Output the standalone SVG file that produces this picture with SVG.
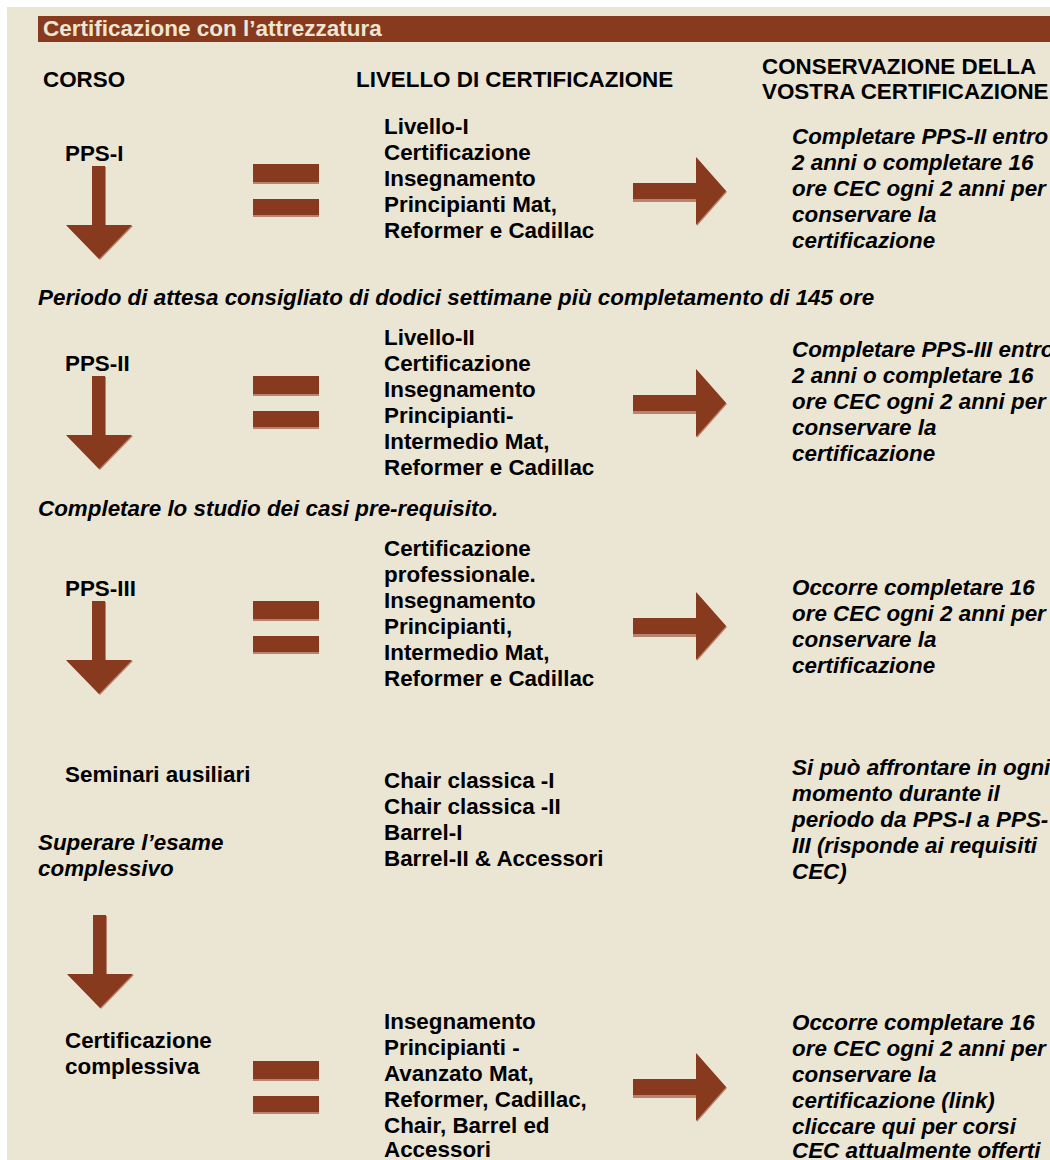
<svg xmlns="http://www.w3.org/2000/svg" xmlns:xlink="http://www.w3.org/1999/xlink" width="1050" height="1160" viewBox="0 0 1050 1160">
<style>
text{font-family:"Liberation Sans",Arial,sans-serif;font-weight:bold;font-size:22.4px;fill:#000}
.i{font-style:italic}
.t{fill:#ede6d3;font-size:22.5px}
.br{fill:#873a1d}
.sh{fill:#b9846f}
</style>
<defs>
<g id="down">
<polygon class="sh" points="1,1 14,1 14,60 41,60 8,94 -25,60 1,60"/>
<polygon class="br" points="0,0 13,0 13,59 40,59 7,93 -26,59 0,59"/>
</g>
<g id="eq">
<rect class="sh" x="0" y="0" width="66" height="20"/>
<rect class="br" x="0" y="0" width="66" height="18"/>
<rect class="sh" x="0" y="35" width="66" height="18"/>
<rect class="br" x="0" y="35" width="66" height="16"/>
</g>
<g id="right">
<polygon class="sh" points="-93,-7 -29,-7 -29,-33 1,1 -29,35 -29,11 -93,11"/>
<polygon class="br" points="-93,-8 -30,-8 -30,-34 0,0 -30,34 -30,8 -93,8"/>
</g>
</defs>
<rect x="0" y="0" width="1050" height="1160" fill="#ffffff"/>
<rect x="7" y="7" width="1043" height="1153" fill="#ebe5d4"/>
<g id="title">
<rect x="38" y="16" width="1012" height="26" fill="#873a1d"/>
<text class="t" x="43" y="36">Certificazione con l’attrezzatura</text>
</g>
<g id="headers">
<text x="43" y="87">CORSO</text>
<text x="356" y="87">LIVELLO DI CERTIFICAZIONE</text>
<text x="762" y="74">CONSERVAZIONE DELLA</text>
<text x="762" y="99">VOSTRA CERTIFICAZIONE</text>
</g>
<g id="pps1">
<text x="65" y="161">PPS-I</text>
</g>
<g id="level1">
<text x="384" y="134">Livello-I</text>
<text x="384" y="160">Certificazione</text>
<text x="384" y="186">Insegnamento</text>
<text x="384" y="212">Principianti Mat,</text>
<text x="384" y="238">Reformer e Cadillac</text>
</g>
<g id="keep1">
<text class="i" x="792" y="144">Completare PPS-II entro</text>
<text class="i" x="792" y="170">2 anni o completare 16</text>
<text class="i" x="792" y="196">ore CEC ogni 2 anni per</text>
<text class="i" x="792" y="222">conservare la</text>
<text class="i" x="792" y="248">certificazione</text>
</g>
<g id="note1">
<text class="i" x="38" y="305">Periodo di attesa consigliato di dodici settimane più completamento di 145 ore</text>
</g>
<g id="pps2">
<text x="65" y="371">PPS-II</text>
</g>
<g id="level2">
<text x="384" y="345">Livello-II</text>
<text x="384" y="371">Certificazione</text>
<text x="384" y="397">Insegnamento</text>
<text x="384" y="423">Principianti-</text>
<text x="384" y="449">Intermedio Mat,</text>
<text x="384" y="475">Reformer e Cadillac</text>
</g>
<g id="keep2">
<text class="i" x="792" y="357">Completare PPS-III entro</text>
<text class="i" x="792" y="383">2 anni o completare 16</text>
<text class="i" x="792" y="409">ore CEC ogni 2 anni per</text>
<text class="i" x="792" y="435">conservare la</text>
<text class="i" x="792" y="461">certificazione</text>
</g>
<g id="note2">
<text class="i" x="38" y="516">Completare lo studio dei casi pre-requisito.</text>
</g>
<g id="pps3">
<text x="65" y="596">PPS-III</text>
</g>
<g id="level3">
<text x="384" y="556">Certificazione</text>
<text x="384" y="582">professionale.</text>
<text x="384" y="608">Insegnamento</text>
<text x="384" y="634">Principianti,</text>
<text x="384" y="660">Intermedio Mat,</text>
<text x="384" y="686">Reformer e Cadillac</text>
</g>
<g id="keep3">
<text class="i" x="792" y="595">Occorre completare 16</text>
<text class="i" x="792" y="621">ore CEC ogni 2 anni per</text>
<text class="i" x="792" y="647">conservare la</text>
<text class="i" x="792" y="673">certificazione</text>
</g>
<g id="seminari">
<text x="65" y="782">Seminari ausiliari</text>
</g>
<g id="level-sem">
<text x="384" y="788">Chair classica -I</text>
<text x="384" y="814">Chair classica -II</text>
<text x="384" y="840">Barrel-I</text>
<text x="384" y="866">Barrel-II &amp; Accessori</text>
</g>
<g id="note3">
<text class="i" x="38" y="850">Superare l’esame</text>
<text class="i" x="38" y="876">complessivo</text>
</g>
<g id="keep-sem">
<text class="i" x="792" y="775">Si può affrontare in ogni</text>
<text class="i" x="792" y="801">momento durante il</text>
<text class="i" x="792" y="827">periodo da PPS-I a PPS-</text>
<text class="i" x="792" y="853">III (risponde ai requisiti</text>
<text class="i" x="792" y="879">CEC)</text>
</g>
<g id="cert-compl">
<text x="65" y="1048">Certificazione</text>
<text x="65" y="1074">complessiva</text>
</g>
<g id="level-compl">
<text x="384" y="1029">Insegnamento</text>
<text x="384" y="1055">Principianti -</text>
<text x="384" y="1081">Avanzato Mat,</text>
<text x="384" y="1107">Reformer, Cadillac,</text>
<text x="384" y="1133">Chair, Barrel ed</text>
<text x="384" y="1157">Accessori</text>
</g>
<g id="keep-compl">
<text class="i" x="792" y="1030">Occorre completare 16</text>
<text class="i" x="792" y="1056">ore CEC ogni 2 anni per</text>
<text class="i" x="792" y="1082">conservare la</text>
<text class="i" x="792" y="1108">certificazione (link)</text>
<text class="i" x="792" y="1134">cliccare qui per corsi</text>
<text class="i" x="792" y="1158">CEC attualmente offerti</text>
</g>
<g id="connectors">
<use xlink:href="#down" x="92" y="166"/>
<use xlink:href="#down" x="92" y="376"/>
<use xlink:href="#down" x="92" y="601"/>
<use xlink:href="#down" x="93" y="915"/>
<use xlink:href="#eq" x="253" y="164"/>
<use xlink:href="#eq" x="253" y="376"/>
<use xlink:href="#eq" x="253" y="601"/>
<use xlink:href="#eq" x="253" y="1061"/>
<use xlink:href="#right" x="726" y="191"/>
<use xlink:href="#right" x="726" y="403"/>
<use xlink:href="#right" x="726" y="626"/>
<use xlink:href="#right" x="726" y="1087"/>
</g>
</svg>
